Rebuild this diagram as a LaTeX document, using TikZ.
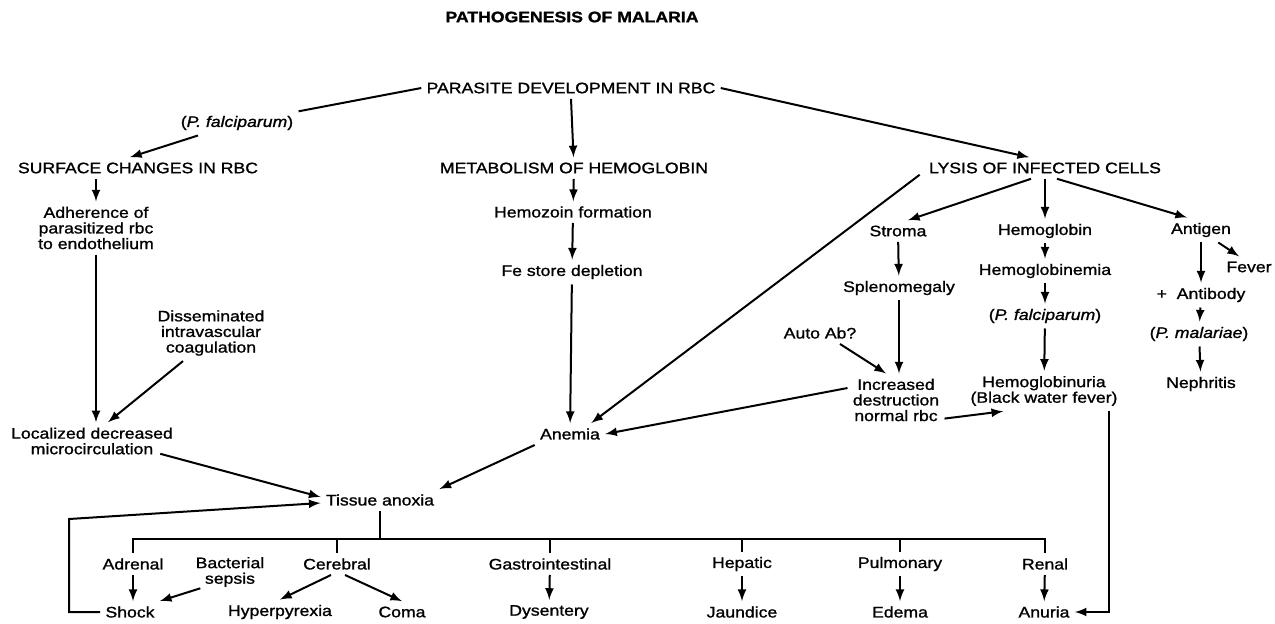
\documentclass[tikz,border=0pt]{standalone}
\usepackage{fontspec}
\setmainfont{Liberation Sans}[FakeStretch=1.16,FakeBold=1.2]
\usetikzlibrary{arrows}
\usetikzlibrary{calc}

\begin{document}
\begin{tikzpicture}[x=0.5pt,y=-0.5pt]
        \tikzstyle{txt}=[inner sep=2.5pt, align=center, font=\fontsize{7.6}{7.8}\selectfont]
        \tikzstyle{ttl}=[txt, font=\fontsize{7.6}{7.8}\selectfont\bfseries]
        \tikzstyle{conn}=[draw, line width=1pt, black]
        \tikzstyle{flow}=[conn, -{latex[scale=1.35]}]
        
        \newcommand{\pfal}{(\textit{P. falciparum})}
        
        \useasboundingbox (0,0) rectangle (1275,623);
        
        \node (title) at (572,17) [ttl]{PATHOGENESIS OF MALARIA};
        \node (par) at (571,88) [txt]{PARASITE DEVELOPMENT IN RBC};
        
        \node (surf) at (138,168) [txt]{SURFACE CHANGES IN RBC};
        \node (meta) at (574,168) [txt]{METABOLISM OF HEMOGLOBIN};
        \node (lys) at (1045,168) [txt]{LYSIS OF INFECTED CELLS};
        \node (pf1) at (237,123) [txt]{\pfal};
        
        % left column
        \node (adh) at (96,228) [txt]{Adherence of\\parasitized rbc\\to endothelium};
        \node (dic) at (211,333) [txt]{Disseminated\\intravascular\\coagulation};
        \node (loc) at (92,441) [txt]{Localized decreased\\microcirculation};
        
        % middle column
        \node (hmz) at (573,212) [txt]{Hemozoin formation};
        \node (fe) at (572,272) [txt]{Fe store depletion};
        \node (anem) at (570,434) [txt]{Anemia};
        \node (tis) at (380,500) [txt]{Tissue anoxia};
        
        % right part
        \node (strom) at (898,231) [txt]{Stroma};
        \node (hgb) at (1045,231) [txt]{Hemoglobin};
        \node (antg) at (1201,230) [txt]{Antigen};
        \node (spl) at (899,288) [txt]{Splenomegaly};
        \node (auto) at (820,333) [txt]{Auto Ab?};
        \node (incr) at (896,400) [txt]{Increased\\destruction\\normal rbc};
        \node (hgbe) at (1045,271) [txt]{Hemoglobinemia};
        \node (pf2) at (1045,316) [txt]{\pfal};
        \node (hgbu) at (1044,391) [txt]{Hemoglobinuria\\(Black water fever)};
        \node (fev) at (1249,267) [txt]{Fever};
        \node (ab) at (1201,295) [txt]{+\ \ Antibody};
        \node (pm) at (1199,334) [txt]{(\textit{P. malariae})};
        \node (neph) at (1201,384) [txt]{Nephritis};
        
        % organs
        \foreach \n/\x/\t in {adr/133/Adrenal, cere/337/Cerebral, gi/550/Gastrointestinal, hep/742/Hepatic, pulm/900/Pulmonary, ren/1045/Renal}
            \node (\n) at (\x,564) [txt]{\t};
        \node (bact) at (230,572) [txt]{Bacterial\\sepsis};
        \foreach \n/\x/\t in {shock/130/Shock, hyp/280/Hyperpyrexia, coma/402/Coma, dys/549/Dysentery, jau/742/Jaundice, ede/900/Edema, anu/1044/Anuria}
            \node (\n) at (\x,612) [txt]{\t};
        
        \coordinate (fb) at (69,519);
        \coordinate (bus) at (382,539);
        
        % top branches
        \draw[conn] (par.west) -- (pf1);
        \draw[flow] (pf1) -- ([xshift=-4pt]surf.north);
        \draw[flow] (par.south) -- (meta);
        \draw[flow] (par.east) -- ([xshift=-8pt]lys.north);
        
        \draw[flow] (adh.north |- surf.south) -- (adh.north);
        \draw[flow] (adh.south) -- (adh.south |- loc.north);
        \draw[flow] ([xshift=-14pt]dic.south) -- ([xshift=8pt]loc.north);
        \draw[flow] ([xshift=-9pt,yshift=3pt]loc.south east) -- ([yshift=1.5pt]tis.west);
        
        \draw[flow] (meta) -- (hmz);
        \draw[flow] (hmz) -- (fe);
        \draw[flow] (fe) -- (anem);
        \draw[flow] (anem.south west) -- (tis.north east);
        
        \draw[flow] ([xshift=-2pt,yshift=2pt]lys.south west) -- ([xshift=-7pt]anem.north east);
        \draw[flow] ([xshift=-7pt]lys.south) -- ([xshift=5pt]strom.north);
        \draw[flow] (lys.south) -- (hgb.north);
        \draw[flow] ([xshift=6pt]lys.south) -- ([xshift=-7pt]antg.north);
        
        \draw[flow] (strom) -- (spl);
        \draw[flow] (spl.south) -- (spl.south |- incr.north);
        \draw[flow] ([xshift=10pt]auto.south) -- ([xshift=-5pt]incr.north);
        \draw[flow] ([yshift=6pt]incr.west) -- (anem.east);
        \draw[flow] ([yshift=4pt]incr.south east) -- ([xshift=19pt]hgbu.south west);
        
        \draw[flow] (hgb) -- (hgbe);
        \draw[flow] (hgbe) -- (pf2);
        \draw[flow] (pf2) -- (hgbu);
        \draw[flow] ([xshift=-7pt]hgbu.south east) |- (anu.east);
        
        \draw[flow] ([xshift=-9pt]antg.south east) -- ([xshift=-5pt]fev.north);
        \draw[flow] (antg.south) -- (antg.south |- ab.north);
        \draw[flow] (ab) -- (pm);
        \draw[flow] (pm) -- (neph);
        
        % tissue anoxia to organs
        \draw[flow] (shock.west) -| (fb) -- ([yshift=-1.5pt]tis.west);
        \draw[conn] (tis.south) -- (tis.south |- bus);
        \draw[conn] (adr.north) |- (bus) -| (ren.north);
        \foreach \n in {cere,gi,hep,pulm}
            \draw[conn] (\n.north) -- (\n.north |- bus);
        
        \draw[flow] (adr.south) -- (adr.south |- shock.north);
        \draw[flow] ([xshift=5pt,yshift=2pt]bact.south west) -- (shock.north east);
        \draw[flow] ([xshift=-3pt]cere.south) -- (hyp.north);
        \draw[flow] ([xshift=4pt]cere.south) -- (coma.north);
        \foreach \a/\b in {gi/dys, hep/jau, pulm/ede, ren/anu}
            \draw[flow] (\a) -- (\b);
        
\end{tikzpicture}
\end{document}
